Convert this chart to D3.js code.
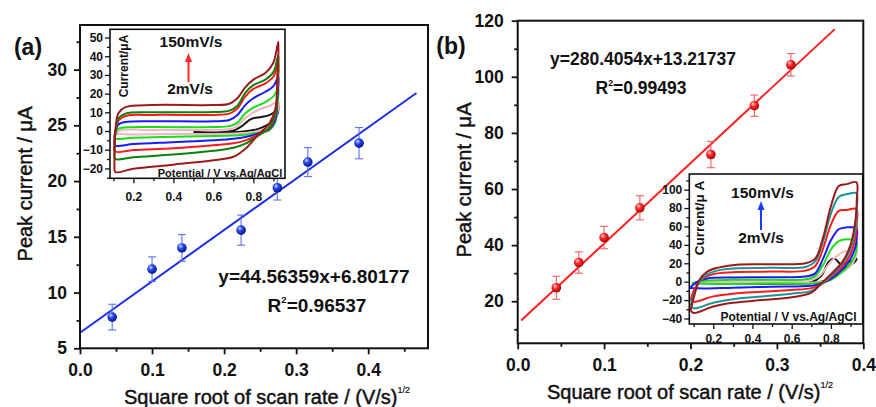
<!DOCTYPE html>
<html>
<head>
<meta charset="utf-8">
<script src="https://cdn.jsdelivr.net/npm/d3@7"></script>
<style>
	body { margin: 0; background: #fff; }
	svg { display: block; }
	text { font-family: "Liberation Sans", Arial, sans-serif; fill: #111; }
</style>
</head>
<body>
<svg id="chart" width="876" height="407"></svg>
<script>
// ---------- panel (a): peak current vs sqrt(scan rate)
var aRate = [0.0447, 0.1, 0.1414, 0.2236, 0.2739, 0.3162, 0.3873];
var aPeak = [7.8, 12.1, 14.0, 15.6, 19.4, 21.7, 23.4];
var aErr = [1.15, 1.1, 1.2, 1.35, 1.1, 1.3, 1.4];
var aFit = [[0, 6.4], [0.467, 27.9]];
var aXTicks = [0, 0.1, 0.2, 0.3, 0.4];
var aXMinor = [0.05, 0.15, 0.25, 0.35, 0.45];
var aYTicks = [5, 10, 15, 20, 25, 30];
var aYMinor = [7.5, 12.5, 17.5, 22.5, 27.5, 32.5];

// ---------- panel (b)
var bRate = [0.0447, 0.0707, 0.1, 0.1414, 0.2236, 0.2739, 0.3162];
var bPeak = [24.8, 33.8, 42.7, 53.3, 72.3, 89.7, 104.3];
var bErr = [4.1, 3.8, 4.0, 4.3, 4.7, 3.8, 4.0];
var bFit = [[0.004, 13.1], [0.367, 117]];
var bXTicks = [0, 0.1, 0.2, 0.3, 0.4];
var bXMinor = [0.05, 0.15, 0.25, 0.35];
var bYTicks = [20, 40, 60, 80, 100, 120];
var bYMinor = [10, 30, 50, 70, 90, 110];

// ---------- inset (a): CV curves, [potential, current]
var inAXTicks = [0.2, 0.4, 0.6, 0.8];
var inAXMinor = [0.1, 0.3, 0.5, 0.7, 0.9];
var inAYTicks = [-20, -10, 0, 10, 20, 30, 40, 50];
var inAYMinor = [-25, -15, -5, 5, 15, 25, 35, 45];
var cvA = [
	{ color: "#151515", pts: [[0.5, -0.6], [0.6, -0.8], [0.7, 0.2], [0.74, 2.5], [0.79, 6.5], [0.84, 7.5], [0.88, 8.5], [0.91, 10.5], [0.925, 13.5], [0.92, 9], [0.88, 4], [0.82, 1], [0.75, -0.3], [0.6, -0.9]] },
	{ color: "#f2b4c0", pts: [[0.11, -1.5], [0.13, 0.2], [0.3, 0.6], [0.6, 0.7], [0.7, 1.5], [0.76, 7], [0.82, 11], [0.88, 13.5], [0.925, 15.5], [0.92, 10], [0.88, 2.5], [0.8, -0.5], [0.7, -1.3], [0.4, -1.6], [0.15, -1.8], [0.11, -1.5]] },
	{ color: "#18e018", pts: [[0.105, -3], [0.11, -0.5], [0.125, 1.2], [0.16, 1.9], [0.3, 2.1], [0.6, 2.1], [0.68, 2.6], [0.72, 4.5], [0.76, 9.5], [0.8, 12.5], [0.86, 15.5], [0.9, 18.5], [0.925, 22.5], [0.92, 14], [0.91, 5], [0.88, 0.5], [0.82, -1], [0.76, -2], [0.7, -2.4], [0.6, -2.7], [0.4, -3.1], [0.2, -3.6], [0.11, -4.1], [0.105, -3]] },
	{ color: "#1a1aff", pts: [[0.105, -6], [0.11, 0], [0.125, 3.5], [0.16, 4.8], [0.3, 5.2], [0.6, 5.2], [0.68, 5.9], [0.72, 8.5], [0.76, 14], [0.8, 17.5], [0.86, 21], [0.9, 24], [0.925, 29], [0.92, 18], [0.91, 6], [0.88, 1], [0.82, -1.5], [0.76, -3.2], [0.7, -4.2], [0.6, -5], [0.4, -6], [0.2, -7], [0.11, -7.8], [0.105, -6]] },
	{ color: "#ff1a1a", pts: [[0.105, -8], [0.11, 0], [0.125, 5.5], [0.16, 8], [0.3, 8.6], [0.6, 8.6], [0.68, 9.3], [0.72, 12], [0.76, 18.5], [0.8, 22.5], [0.86, 25.5], [0.9, 29], [0.925, 36], [0.92, 22], [0.91, 8], [0.88, 1.5], [0.82, -2.2], [0.76, -5], [0.7, -6.6], [0.6, -7.6], [0.4, -9.2], [0.2, -10.2], [0.11, -11], [0.105, -8]] },
	{ color: "#0b820b", pts: [[0.105, -12], [0.11, -2], [0.125, 6.5], [0.16, 9.3], [0.3, 10], [0.6, 10.1], [0.68, 10.9], [0.72, 13.5], [0.76, 20.5], [0.8, 24.5], [0.86, 27.5], [0.9, 31.5], [0.925, 40.5], [0.92, 25], [0.91, 9], [0.88, 2], [0.82, -2.8], [0.76, -6.8], [0.7, -9], [0.6, -10.6], [0.4, -12.6], [0.2, -14], [0.11, -15], [0.105, -12]] },
	{ color: "#9c1a1a", pts: [[0.105, -20], [0.11, 0], [0.125, 9.5], [0.16, 12.8], [0.3, 13.9], [0.6, 13.9], [0.68, 14.6], [0.72, 17.5], [0.76, 23.5], [0.8, 27.5], [0.86, 31], [0.9, 36.5], [0.925, 47.8], [0.92, 30], [0.91, 12], [0.88, 4], [0.82, -2.5], [0.76, -9.5], [0.7, -13.8], [0.6, -15.6], [0.4, -18], [0.2, -20.2], [0.11, -22], [0.105, -20]] }
];

// ---------- inset (b)
var inBXTicks = [0.2, 0.4, 0.6, 0.8];
var inBXMinor = [0.1, 0.3, 0.5, 0.7, 0.9];
var inBYTicks = [-40, -20, 0, 20, 40, 60, 80, 100];
var inBYMinor = [-30, -10, 10, 30, 50, 70, 90, 110];
var cvB = [
	{ color: "#151515", pts: [[0.14, -1.5], [0.4, -1.5], [0.7, -0.5], [0.75, 6], [0.79, 22], [0.82, 25], [0.85, 19], [0.89, 21], [0.93, 25], [0.92, 21], [0.88, 16], [0.84, 9], [0.8, 3], [0.75, 0], [0.7, -1.5], [0.4, -2.2], [0.14, -1.5]] },
	{ color: "#f4b8c4", pts: [[0.12, 0], [0.4, 0.8], [0.67, 1.2], [0.74, 6], [0.8, 22], [0.86, 32], [0.9, 34], [0.93, 35], [0.925, 26], [0.9, 17], [0.84, 8], [0.78, 1], [0.7, -1], [0.4, -1.2], [0.12, 0]] },
	{ color: "#18e018", pts: [[0.09, -2], [0.13, 0.5], [0.3, 2], [0.5, 2], [0.67, 2.5], [0.72, 6], [0.76, 18], [0.8, 35], [0.84, 44], [0.88, 46], [0.93, 44], [0.932, 38], [0.925, 30], [0.9, 20], [0.86, 11], [0.8, 2], [0.75, -1], [0.7, -2], [0.5, -2], [0.3, -2.5], [0.09, -2]] },
	{ color: "#1a1aff", pts: [[0.08, -7], [0.1, -3], [0.13, 1], [0.17, 3.5], [0.3, 4.5], [0.5, 4.8], [0.67, 5.5], [0.72, 9], [0.76, 25], [0.8, 45], [0.84, 57], [0.88, 59], [0.93, 58], [0.932, 48], [0.925, 38], [0.9, 25], [0.86, 14], [0.8, 3], [0.75, -2], [0.7, -4.5], [0.5, -5.5], [0.3, -6.5], [0.15, -7.5], [0.08, -7]] },
	{ color: "#ff1a1a", pts: [[0.085, -20], [0.1, -10], [0.13, 0], [0.17, 6], [0.22, 9], [0.32, 10.5], [0.5, 11], [0.67, 12], [0.72, 17], [0.76, 36], [0.8, 62], [0.84, 77], [0.88, 78], [0.93, 79], [0.932, 64], [0.925, 48], [0.9, 30], [0.86, 17], [0.8, 5], [0.75, -3], [0.7, -7], [0.6, -9], [0.45, -11], [0.3, -13], [0.2, -16], [0.1, -22], [0.085, -20]] },
	{ color: "#1a9696", pts: [[0.085, -26], [0.1, -15], [0.13, 0], [0.17, 8], [0.22, 12], [0.32, 14.5], [0.5, 15], [0.67, 16], [0.72, 22], [0.76, 44], [0.8, 74], [0.84, 92], [0.88, 95], [0.93, 96], [0.932, 80], [0.925, 58], [0.9, 36], [0.86, 20], [0.8, 6], [0.75, -3], [0.7, -10], [0.6, -13], [0.45, -16], [0.3, -19], [0.2, -23], [0.1, -29], [0.085, -26]] },
	{ color: "#9c1a1a", pts: [[0.085, -31], [0.1, -18], [0.13, 2], [0.17, 11], [0.22, 15], [0.32, 18.5], [0.5, 19], [0.67, 20], [0.72, 25], [0.76, 48], [0.8, 82], [0.84, 104], [0.88, 106], [0.93, 108], [0.932, 90], [0.925, 67], [0.9, 40], [0.86, 22], [0.8, 8], [0.75, -2], [0.7, -12], [0.6, -17], [0.45, -20], [0.3, -23], [0.2, -27], [0.1, -34], [0.085, -31]] }
];

var svg = d3.select("#chart");
var defs = svg.append("defs");

function ballGradient(id, light, mid, dark) {
	var g = defs.append("radialGradient").attr("id", id)
		.attr("cx", "40%").attr("cy", "38%").attr("r", "60%")
		.attr("fx", "35%").attr("fy", "30%");
	g.append("stop").attr("offset", "0%").attr("stop-color", light);
	g.append("stop").attr("offset", "45%").attr("stop-color", mid);
	g.append("stop").attr("offset", "100%").attr("stop-color", dark);
}
ballGradient("ballBlue", "#d6deff", "#2446ee", "#0b1a8c");
ballGradient("ballRed", "#ffd2d2", "#ff2a2a", "#a80808");

// draws ticks + labels on bottom/left and a closed frame
function drawAxes(x, y, o) {
	var bottom = y.range()[0], top = y.range()[1];
	var left = x.range()[0], right = x.range()[1];
	var gx = svg.append("g").attr("transform", "translate(0," + bottom + ")");
	gx.call(d3.axisBottom(x).tickValues(o.xTicks).tickSize(o.major)
		.tickPadding(o.xPad).tickFormat(d3.format(".1f")));
	gx.append("g").call(d3.axisBottom(x).tickValues(o.xMinor).tickSize(o.minor).tickFormat(""));
	var gy = svg.append("g").attr("transform", "translate(" + left + ",0)");
	gy.call(d3.axisLeft(y).tickValues(o.yTicks).tickSize(o.major)
		.tickPadding(o.yPad).tickFormat(d3.format("d")));
	gy.append("g").call(d3.axisLeft(y).tickValues(o.yMinor).tickSize(o.minor).tickFormat(""));
	[gx, gy].forEach(function (g) {
		g.selectAll(".domain").remove();
		g.selectAll("line").attr("stroke", "#111").attr("stroke-width", o.stroke);
		g.selectAll("text").attr("font-size", o.font).attr("font-weight", "bold").attr("fill", "#111");
	});
	svg.append("rect").attr("x", left).attr("y", top)
		.attr("width", right - left).attr("height", bottom - top)
		.attr("fill", "none").attr("stroke", "#111").attr("stroke-width", o.frame);
}

function drawScatter(x, y, rate, peak, err, fit, lineColor, errColor, grad, r) {
	var g = svg.append("g");
	g.append("path").datum(fit)
		.attr("d", d3.line().x(function (d) { return x(d[0]); }).y(function (d) { return y(d[1]); }))
		.attr("stroke", lineColor).attr("stroke-width", 2).attr("fill", "none");
	var pts = rate.map(function (v, i) { return { x: v, y: peak[i], e: err[i] }; });
	var eb = g.selectAll(".eb").data(pts).enter().append("g")
		.attr("stroke", errColor).attr("stroke-width", 1.1);
	eb.append("line")
		.attr("x1", function (d) { return x(d.x); }).attr("x2", function (d) { return x(d.x); })
		.attr("y1", function (d) { return y(d.y - d.e); }).attr("y2", function (d) { return y(d.y + d.e); });
	eb.append("line")
		.attr("x1", function (d) { return x(d.x) - 4; }).attr("x2", function (d) { return x(d.x) + 4; })
		.attr("y1", function (d) { return y(d.y + d.e); }).attr("y2", function (d) { return y(d.y + d.e); });
	eb.append("line")
		.attr("x1", function (d) { return x(d.x) - 4; }).attr("x2", function (d) { return x(d.x) + 4; })
		.attr("y1", function (d) { return y(d.y - d.e); }).attr("y2", function (d) { return y(d.y - d.e); });
	g.selectAll(".pt").data(pts).enter().append("circle")
		.attr("cx", function (d) { return x(d.x); })
		.attr("cy", function (d) { return y(d.y); })
		.attr("r", r).attr("fill", "url(#" + grad + ")");
}

function drawInset(x, y, curves, o, id) {
	var left = x.range()[0], right = x.range()[1];
	var bottom = y.range()[0], top = y.range()[1];
	svg.append("rect").attr("x", left).attr("y", top)
		.attr("width", right - left).attr("height", bottom - top).attr("fill", "#fff");
	defs.append("clipPath").attr("id", id).append("rect")
		.attr("x", left).attr("y", top).attr("width", right - left).attr("height", bottom - top);
	var line = d3.line()
		.x(function (d) { return x(d[0]); })
		.y(function (d) { return y(d[1]); })
		.curve(d3.curveCatmullRom.alpha(0.5));
	svg.append("g").attr("clip-path", "url(#" + id + ")")
		.selectAll("path").data(curves).enter().append("path")
		.attr("d", function (d) { return line(d.pts); })
		.attr("fill", "none")
		.attr("stroke", function (d) { return d.color; })
		.attr("stroke-width", 2)
		.attr("stroke-linejoin", "round");
	drawAxes(x, y, o);
}

function arrow(xp, y1, y2, color) {
	svg.append("line").attr("x1", xp).attr("x2", xp).attr("y1", y1).attr("y2", y2 + 7)
		.attr("stroke", color).attr("stroke-width", 2);
	svg.append("path")
		.attr("d", "M" + xp + "," + y2 + "L" + (xp - 3.5) + "," + (y2 + 9) + "L" + (xp + 3.5) + "," + (y2 + 9) + "Z")
		.attr("fill", color);
}

function label(x, y, str, size, weight, anchor) {
	return svg.append("text").attr("x", x).attr("y", y).text(str)
		.attr("font-size", size).attr("font-weight", weight || "normal")
		.attr("text-anchor", anchor || "middle");
}

function rSquared(x, y, value, size) {
	var t = svg.append("text").attr("x", x).attr("y", y).attr("text-anchor", "middle")
		.attr("font-size", size).attr("font-weight", "bold");
	t.append("tspan").text("R");
	t.append("tspan").text("2").attr("font-size", size * 0.5).attr("dy", -size * 0.45);
	t.append("tspan").text("=" + value).attr("dy", size * 0.45);
}

function xTitle(x, y) {
	var t = svg.append("text").attr("x", x).attr("y", y).attr("text-anchor", "middle")
		.attr("font-size", 20).attr("stroke", "#111").attr("stroke-width", 0.45);
	t.append("tspan").text("Square root of scan rate / (V/s)");
	t.append("tspan").text("1/2").attr("font-size", 9).attr("stroke-width", 0.2).attr("dy", -11);
}

function yTitle(x, y) {
	svg.append("text").attr("transform", "translate(" + x + "," + y + ") rotate(-90)")
		.attr("text-anchor", "middle").attr("font-size", 20)
		.attr("stroke", "#111").attr("stroke-width", 0.45)
		.text("Peak current / \u03bcA");
}

// ---------- panel (a)
var ax = d3.scaleLinear().domain([0, 0.483]).range([80, 428]);
var ay = d3.scaleLinear().domain([5, 34]).range([348.3, 25]);
drawScatter(ax, ay, aRate, aPeak, aErr, aFit, "#1c2fe6", "#5d6ff2", "ballBlue", 4.8);
drawAxes(ax, ay, { xTicks: aXTicks, xMinor: aXMinor, yTicks: aYTicks, yMinor: aYMinor,
	major: 6, minor: 3.5, xPad: 9, yPad: 7, font: 17.5, stroke: 1.8, frame: 2 });

var iax = d3.scaleLinear().domain([0.083, 0.958]).range([110, 285]);
var iay = d3.scaleLinear().domain([-25.3, 54.4]).range([178.3, 29.3]);
drawInset(iax, iay, cvA, { xTicks: inAXTicks, xMinor: inAXMinor, yTicks: inAYTicks, yMinor: inAYMinor,
	major: 5, minor: 3, xPad: 9, yPad: 2, font: 12, stroke: 1.3, frame: 1.6 }, "clipA");
label(191, 46.5, "150mV/s", 15.5, "bold");
label(190, 94, "2mV/s", 15.5, "bold");
arrow(188.5, 82, 53, "#ff2626");
svg.append("text").attr("transform", "translate(127.5,66) rotate(-90)")
	.attr("text-anchor", "middle").attr("font-size", 12).attr("font-weight", "bold")
	.text("Current/\u03bcA");
label(220, 176.5, "Potential / V vs.Ag/AgCl", 11, "bold");

label(314, 283, "y=44.56359x+6.80177", 19, "bold");
rSquared(317, 311.5, "0.96537", 19);
xTitle(267, 404);
yTitle(32, 184);
label(28, 55, "(a)", 23, "bold");

// ---------- panel (b)
var bx = d3.scaleLinear().domain([0, 0.4]).range([517.7, 863.3]);
var by = d3.scaleLinear().domain([5, 120]).range([343.3, 20.7]);
drawScatter(bx, by, bRate, bPeak, bErr, bFit, "#ff1e1e", "#f26060", "ballRed", 4.8);
drawAxes(bx, by, { xTicks: bXTicks, xMinor: bXMinor, yTicks: bYTicks, yMinor: bYMinor,
	major: 6, minor: 3.5, xPad: 9, yPad: 8, font: 17.5, stroke: 1.8, frame: 2 });

var ibx = d3.scaleLinear().domain([0.078, 0.962]).range([689.3, 862.7]);
var iby = d3.scaleLinear().domain([-46, 117]).range([324, 174]);
drawInset(ibx, iby, cvB, { xTicks: inBXTicks, xMinor: inBXMinor, yTicks: inBYTicks, yMinor: inBYMinor,
	major: 5, minor: 3, xPad: 5, yPad: 2, font: 12, stroke: 1.3, frame: 1.6 }, "clipB");
label(762.5, 198, "150mV/s", 15.5, "bold");
label(761, 243, "2mV/s", 15.5, "bold");
arrow(761, 230, 201, "#1a3cff");
svg.append("text").attr("transform", "translate(704,218) rotate(-90)")
	.attr("text-anchor", "middle").attr("font-size", 13.5).attr("font-weight", "bold")
	.text("Current/\u03bc A");
label(788.5, 321, "Potential / V vs.Ag/AgCl", 12, "bold");

label(643, 65, "y=280.4054x+13.21737", 17.5, "bold");
rSquared(641, 94, "0.99493", 17.5);
xTitle(690, 399);
yTitle(471, 180);
label(451, 54, "(b)", 23, "bold");
</script>
</body>
</html>
